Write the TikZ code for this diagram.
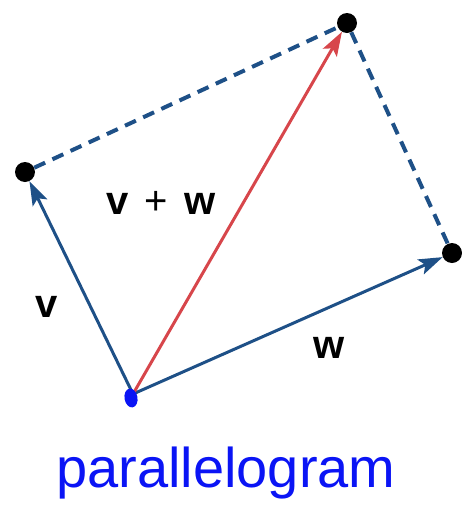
\documentclass[tikz,border=0pt]{standalone}
\usepackage{fontspec}
\setmainfont{Liberation Sans}
\definecolor{azulvector}{RGB}{30, 80, 135}
\definecolor{rojosuma}{RGB}{215, 70, 75}
\definecolor{azultinta}{RGB}{10, 20, 245}
\usepackage{tikz}
\usetikzlibrary{arrows.meta, shapes.geometric, positioning}

\begin{document}
\begin{tikzpicture}[x=1pt, y=-1pt,
    punto/.style={circle, fill=black, inner sep=0pt, minimum size=20pt},
    vector/.style={line width=3pt, -{Stealth[length=24pt, width=16pt, inset=5pt]}},
    lado/.style={azulvector, line width=4pt, dash pattern=on 12pt off 8pt}]
      \useasboundingbox (0,0) rectangle (462,520);

      % puntos del paralelogramo
      \coordinate (O) at (133,394);
      \node[punto] (V) at (25,172) {};
      \node[punto] (W) at (452,253) {};
      \node[punto] (S) at (347,23) {};

      \draw[lado] (V) -- (S) -- (W);
      \draw[vector, azulvector] (O) -- (V);
      \draw[vector, azulvector] (O) -- (W);
      \draw[vector, rojosuma] (O) -- (S);

      % marca a mano en el origen
      \node[ellipse, fill=azultinta, minimum width=13pt, minimum height=19pt,
            inner sep=0pt, rotate=10] (marca) at (131,398) {};

      \node[font=\fontsize{40}{44}\selectfont\bfseries] (lv) at (47,307) {v};
      \node[font=\fontsize{40}{44}\selectfont\bfseries] (lw) at (329,348) {w};
      \node[font=\fontsize{40}{44}\selectfont] (lvw) at (161,203)
            {\textbf{v}\kern 16pt+\kern 16pt\textbf{w}};

      \node[anchor=base, text=azultinta, font=\fontsize{56}{60}\selectfont]
            (nombre) at (226,487) {parallelogram};
    \end{tikzpicture}
\end{document}
